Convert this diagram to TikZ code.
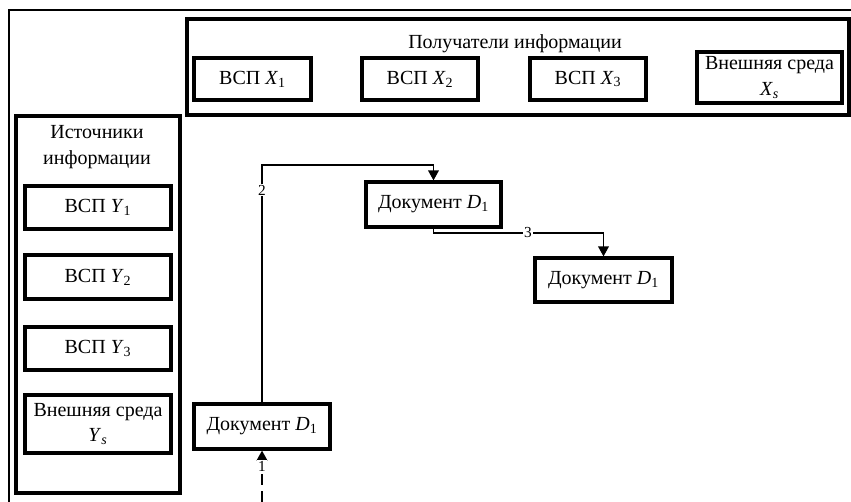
\documentclass[tikz,border=0pt]{standalone}
\usepackage{fontspec}
\setmainfont{Liberation Serif}
\usetikzlibrary{arrows.meta}
\newcommand{\ivar}[2]{\textit{#1}\textsubscript{#2}}
\begin{document}
\begin{tikzpicture}[x=0.75pt,y=-0.75pt,
  box/.style 2 args={draw, line width=2.4pt, inner sep=0pt, align=center,
    minimum width=#1*0.75pt, minimum height=#2*0.75pt,
    font=\fontsize{15}{19}\selectfont},
  ttl/.style={align=center, inner sep=0pt, font=\fontsize{15}{19}\selectfont},
  conn/.style={line width=1.2pt, -{Triangle[length=7.5pt,width=8pt]}},
  lbl/.style={fill=white, inner sep=0.8pt, font=\fontsize{11.5}{12}\selectfont}]
\useasboundingbox (0,0) rectangle (851,502);
\coordinate (fa) at (9,502);
\coordinate (fb) at (851,10);
\draw[line width=2.2pt] (fa) |- (fb);

% receivers
\node[box={662}{96}] (recv) at (518,67) {};
\node[ttl] (recvt) at (515,44) {Получатели информации};
\node[box={117}{42}] (x1) at (252.5,79) {ВСП \ivar{X}{1}};
\node[box={116}{42}] (x2) at (420,79) {ВСП \ivar{X}{2}};
\node[box={116}{42}] (x3) at (588,79) {ВСП \ivar{X}{3}};
\node[box={145}{51}] (xs) at (769.5,77.5) {Внешняя среда\\\ivar{X}{\textit{s}}};

% sources
\node[box={164}{377}] (src) at (98,304.5) {};
\node[ttl] (srct) at (97,147) {Источники\\информации};
\node[box={146}{43}] (y1) at (98,207.5) {ВСП \ivar{Y}{1}};
\node[box={146}{44}] (y2) at (98,277) {ВСП \ivar{Y}{2}};
\node[box={146}{43}] (y3) at (98,348.5) {ВСП \ivar{Y}{3}};
\node[box={146}{58}] (ys) at (98,424) {Внешняя среда\\\ivar{Y}{\textit{s}}};

% documents
\node[box={136}{45}] (d1) at (262,426.5) {Документ \ivar{D}{1}};
\node[box={135}{45}] (d2) at (433.5,204.5) {Документ \ivar{D}{1}};
\node[box={137}{44}] (d3) at (603.5,280) {Документ \ivar{D}{1}};

% connectors
\coordinate (in1) at (262,502);
\coordinate (y2c) at (0,165);
\coordinate (y3c) at (0,233);
\draw[conn, dash pattern=on 8pt off 5pt] (in1) -- (d1.south);
\draw[conn] (d1.north) -- (d1.north |- y2c) -| (d2.north);
\draw[conn] (d2.south) -- (d2.south |- y3c) -| (d3.north);
\node[lbl] (l1) at (262,466) {1};
\node[lbl] (l2) at (262,190) {2};
\node[lbl] (l3) at (528,233) {3};
\end{tikzpicture}
\end{document}
